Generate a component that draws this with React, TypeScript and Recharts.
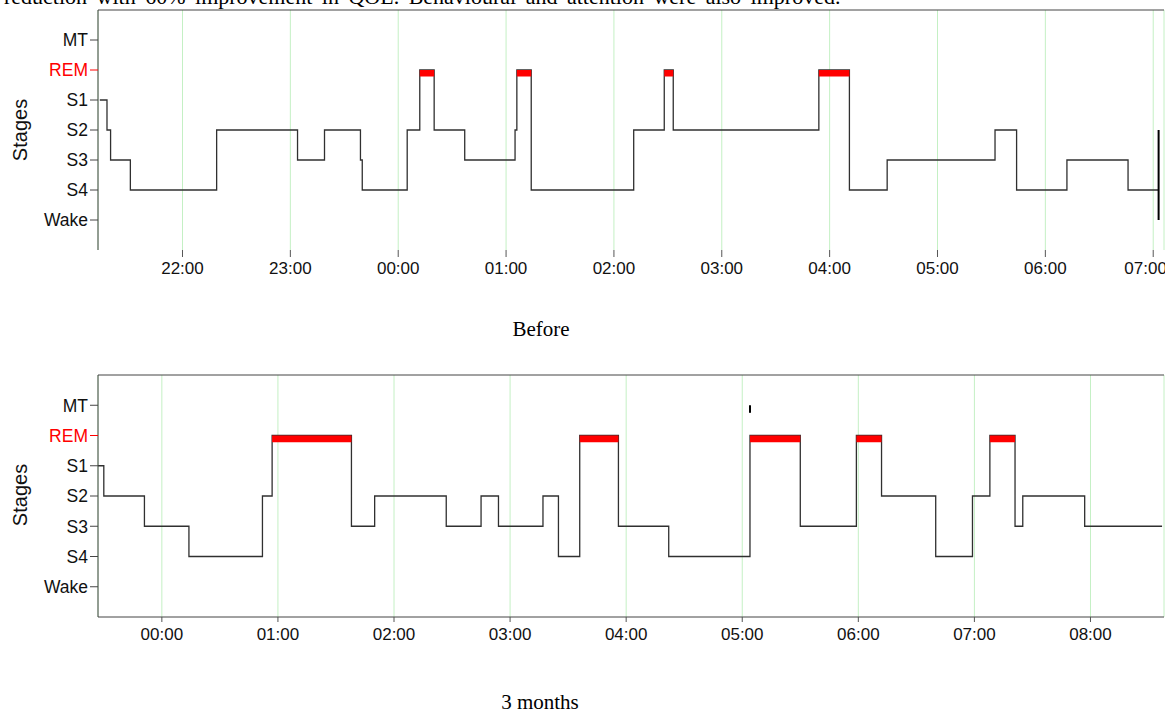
import {
  LineChart,
  Line,
  XAxis,
  YAxis,
  CartesianGrid,
  ReferenceLine,
} from "recharts";

// stage order bottom -> top on the y axis
const stageNames = ["Wake", "S4", "S3", "S2", "S1", "REM", "MT"];

// "Before" night: start of each epoch and its stage
const beforeTimes = [
  "21:14", "21:18", "21:20", "21:31", "22:19", "23:04", "23:19", "23:39",
  "23:40", "00:05", "00:12", "00:20", "00:37", "01:05", "01:06", "01:14",
  "02:11", "02:28", "02:33", "03:54", "04:11", "04:32", "05:32", "05:44",
  "06:12", "06:46",
];
const beforeStages = [
  "S1", "S2", "S3", "S4", "S2", "S3", "S2", "S3",
  "S4", "S2", "REM", "S2", "S3", "S2", "REM", "S4",
  "S2", "REM", "S2", "REM", "S4", "S3", "S2", "S4",
  "S3", "S4",
];
const beforeEnd = "07:03";
const beforeTicks = [
  "22:00", "23:00", "00:00", "01:00", "02:00", "03:00", "04:00", "05:00", "06:00", "07:00",
];

// "3 months" night
const monthsTimes = [
  "23:27", "23:30", "23:51", "00:14", "00:52", "00:57", "01:38", "01:50",
  "02:27", "02:45", "02:54", "03:17", "03:25", "03:36", "03:56", "04:22",
  "05:04", "05:30", "05:59", "06:12", "06:40", "06:59", "07:08", "07:21",
  "07:25", "07:57",
];
const monthsStages = [
  "S1", "S2", "S3", "S4", "S2", "REM", "S3", "S2",
  "S3", "S2", "S3", "S2", "S4", "REM", "S3", "S4",
  "REM", "S3", "REM", "S2", "S4", "S2", "REM", "S3",
  "S2", "S3",
];
const monthsEnd = "08:37";
const monthsMovement = ["05:04"];
const monthsTicks = [
  "00:00", "01:00", "02:00", "03:00", "04:00", "05:00", "06:00", "07:00", "08:00",
];

const SANS = "'Liberation Sans', Arial, sans-serif";
const SERIF = "'Liberation Serif', 'Times New Roman', serif";
const REM = stageNames.indexOf("REM");
const REM_BAR = 0.22; // thickness of the red REM bar in stage units
const Y_TICK = 8;
const Y_MARGIN = 2;

// clock string -> minutes, times before noon belong to the next day
const toMin = (s: string) => {
  const [h, m] = s.split(":").map(Number);
  return (h < 12 ? h + 24 : h) * 60 + m;
};
const pad = (n: number) => String(n).padStart(2, "0");
const fmtClock = (m: number) => `${pad(Math.floor(m / 60) % 24)}:${pad(Math.round(m % 60))}`;

function buildRows(times: string[], stages: string[], end: string) {
  const rows = times.map((t, i) => ({ t: toMin(t), v: stageNames.indexOf(stages[i]) }));
  rows.push({ t: toMin(end), v: rows[rows.length - 1].v });
  return rows;
}

// red bar segments over each REM epoch, broken by nulls
function buildRem(rows: { t: number; v: number }[]) {
  const out: { t: number; rem: number | null }[] = [];
  const y = REM - REM_BAR / 2;
  for (let i = 0; i < rows.length - 1; i++) {
    if (rows[i].v !== REM) continue;
    out.push({ t: rows[i].t, rem: y }, { t: rows[i + 1].t, rem: y }, { t: rows[i + 1].t, rem: null });
  }
  return out;
}

const beforeRows = buildRows(beforeTimes, beforeStages, beforeEnd);
const monthsRows = buildRows(monthsTimes, monthsStages, monthsEnd);

function StageTick(props: any) {
  const { x, y, payload } = props;
  const name = stageNames[payload.value];
  const red = name === "REM";
  return (
    <g>
      <line
        x1={x + Y_MARGIN}
        x2={x + Y_MARGIN + Y_TICK}
        y1={y}
        y2={y}
        stroke={red ? "#ff0000" : "#444"}
      />
      <text
        x={x}
        y={y}
        dy="0.36em"
        textAnchor="end"
        fontSize={17.5}
        fontFamily={SANS}
        fill={red ? "#ff0000" : "#111"}
      >
        {name}
      </text>
    </g>
  );
}

function Hypnogram({
  rows,
  ticks,
  domain,
  height,
  top,
  bottomAxis,
  tickSize,
  tickMargin,
  children,
}: any) {
  const barPx = ((height - top - 40) / 8) * REM_BAR;
  return (
    <LineChart
      width={1165}
      height={height}
      data={rows}
      margin={{ top, right: 1, bottom: 0, left: 0 }}
    >
      <CartesianGrid horizontal={false} stroke="#c4f0c4" />
      <XAxis
        dataKey="t"
        type="number"
        domain={domain.map(toMin)}
        ticks={ticks.map(toMin)}
        tickFormatter={fmtClock}
        allowDataOverflow
        height={40}
        axisLine={bottomAxis ? { stroke: "#444" } : false}
        tickLine={{ stroke: "#555" }}
        tickSize={tickSize}
        tickMargin={tickMargin}
        tick={{ fontSize: 17, fontFamily: SANS, fill: "#111" }}
      />
      <YAxis
        type="number"
        domain={[-1, 7]}
        ticks={[0, 1, 2, 3, 4, 5, 6]}
        width={98}
        axisLine={{ stroke: "#444" }}
        tickLine={false}
        tickSize={Y_TICK}
        tickMargin={Y_MARGIN}
        tick={<StageTick />}
      />
      <ReferenceLine y={7} stroke="#444" />
      <Line
        type="stepAfter"
        dataKey="v"
        stroke="#303030"
        strokeWidth={1.3}
        dot={false}
        isAnimationActive={false}
      />
      <Line
        data={buildRem(rows)}
        type="linear"
        dataKey="rem"
        stroke="#ff0000"
        strokeWidth={barPx}
        strokeLinecap="butt"
        dot={false}
        connectNulls={false}
        isAnimationActive={false}
      />
      {children}
    </LineChart>
  );
}

export default function App() {
  const endT = toMin(beforeEnd);
  return (
    <div style={{ position: "absolute", left: 0, top: 0, width: 1172, height: 713, background: "#fff" }}>
      <div style={{ position: "absolute", left: 0, top: 0 }}>
        <Hypnogram
          rows={beforeRows}
          ticks={beforeTicks}
          domain={["21:13", "07:06"]}
          height={290}
          top={10}
          bottomAxis={false}
          tickSize={7}
          tickMargin={5}
        >
          <ReferenceLine
            segment={[
              { x: endT, y: stageNames.indexOf("S2") },
              { x: endT, y: stageNames.indexOf("Wake") },
            ]}
            stroke="#000"
            strokeWidth={2}
          />
        </Hypnogram>
      </div>
      <div style={{ position: "absolute", left: 0, top: 360 }}>
        <Hypnogram
          rows={monthsRows}
          ticks={monthsTicks}
          domain={["23:27", "08:38"]}
          height={297}
          top={15}
          bottomAxis
          tickSize={5}
          tickMargin={6}
        >
          {monthsMovement.map((t) => (
            <ReferenceLine
              key={t}
              segment={[
                { x: toMin(t), y: stageNames.indexOf("MT") },
                { x: toMin(t), y: stageNames.indexOf("MT") - 0.25 },
              ]}
              stroke="#000"
              strokeWidth={2}
            />
          ))}
        </Hypnogram>
      </div>
      <svg
        width={1172}
        height={713}
        style={{ position: "absolute", left: 0, top: 0, pointerEvents: "none" }}
      >
        <text x={4} y={4} fontSize={22} wordSpacing={4} fontFamily={SERIF} fill="#000">
          reduction with 60% improvement in QOL. Behavioural and attention were also improved.
        </text>
        <text transform="translate(27,130) rotate(-90)" textAnchor="middle" fontSize={20} fontFamily={SANS} fill="#111">
          Stages
        </text>
        <text transform="translate(27,495) rotate(-90)" textAnchor="middle" fontSize={20} fontFamily={SANS} fill="#111">
          Stages
        </text>
        <text x={541} y={336} textAnchor="middle" fontSize={21} fontFamily={SERIF} fill="#000">
          Before
        </text>
        <text x={540} y={709} textAnchor="middle" fontSize={21} fontFamily={SERIF} fill="#000">
          3 months
        </text>
      </svg>
    </div>
  );
}
